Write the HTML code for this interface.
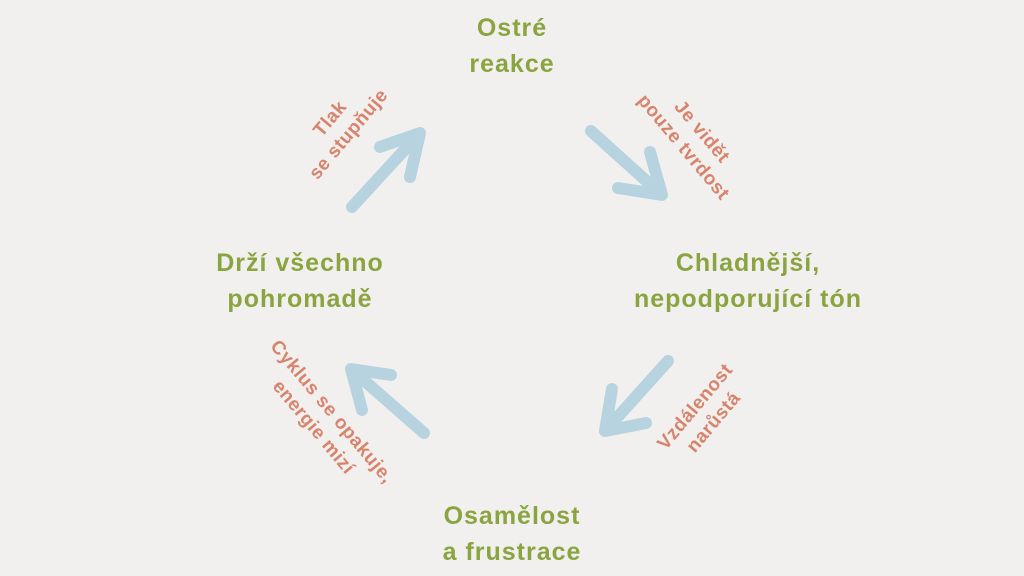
<!DOCTYPE html>
<html><head><meta charset="utf-8"><style>
html,body{margin:0;padding:0}
body{width:1024px;height:576px;background:#f1f0ee;position:relative;overflow:hidden;font-family:"Liberation Sans","DejaVu Sans",sans-serif}
.g{position:absolute;color:#8aa43f;font-weight:bold;font-size:25px;line-height:36px;text-align:center;transform:translate(-50%,-50%);white-space:nowrap;letter-spacing:1px}
.r{position:absolute;color:#d8846c;font-weight:bold;font-size:19px;line-height:24px;text-align:center;white-space:nowrap;letter-spacing:0.5px}
</style></head><body>
<svg width="1024" height="576" style="position:absolute;left:0;top:0">
<g stroke="#b8d3e0" stroke-width="12" stroke-linecap="round" stroke-linejoin="round" fill="none">
<path d="M352,207 L420,133 M380,147 L420,133 L410,177"/>
<path d="M591,131 L662,195 M618,188 L662,195 L650,152"/>
<path d="M668,361 L605,431 M612,389 L605,431 L646,423"/>
<path d="M424,433 L351,369 M391,375 L351,369 L362,410"/>
</g></svg>
<div class="g" style="left:512px;top:46px">Ostré<br>reakce</div>
<div class="g" style="left:748px;top:281px">Chladnější,<br>nepodporující tón</div>
<div class="g" style="left:512px;top:534px">Osamělost<br>a frustrace</div>
<div class="g" style="left:300px;top:281px">Drží všechno<br>pohromadě</div>
<div class="r" style="left:340px;top:127px;transform:translate(-50%,-50%) rotate(-50deg)">Tlak<br>se stupňuje</div>
<div class="r" style="left:692px;top:140px;transform:translate(-50%,-50%) rotate(50deg)">Je vidět<br>pouze tvrdost</div>
<div class="r" style="left:705px;top:415px;transform:translate(-50%,-50%) rotate(-50deg)">Vzdálenost<br>narůstá</div>
<div class="r" style="left:322px;top:420px;transform:translate(-50%,-50%) rotate(50deg)">Cyklus se opakuje,<br>energie mizí</div>
</body></html>
